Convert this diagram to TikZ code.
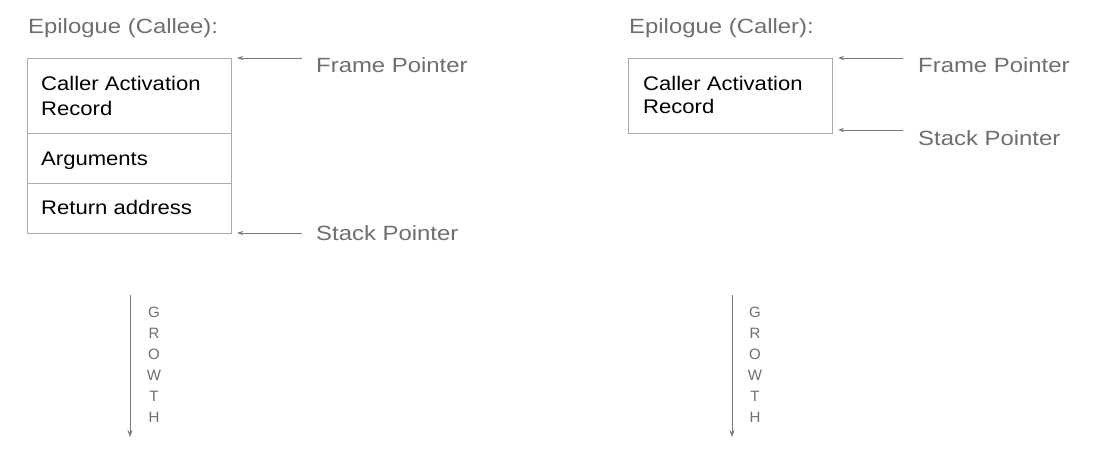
\documentclass[tikz,border=0pt]{standalone}
\usepackage{fontspec}
\setmainfont{Liberation Sans}
\newfontfamily\grayfont[FakeStretch=1.16]{Liberation Sans}
\newfontfamily\boxfont[FakeStretch=1.12]{Liberation Sans}
\usetikzlibrary{arrows.meta}
\definecolor{lblgray}{HTML}{6E6E6E}
\definecolor{boxgray}{HTML}{ABABAB}
\definecolor{arrgray}{HTML}{7A7A7A}
\tikzset{
  lbl/.style={anchor=base west, inner sep=0pt, text=lblgray, font=\grayfont\fontsize{20.6}{23}\selectfont},
  boxtxt/.style={anchor=base west, inner sep=0pt, text=black, font=\boxfont\fontsize{19.7}{22}\selectfont},
  cell/.style={draw=boxgray, line width=1pt},
  ptr/.style={draw=arrgray, line width=0.9pt, -{Stealth[length=6pt,width=4pt]}},
  growarr/.style={draw=arrgray, line width=1pt, -{Stealth[length=7pt,width=5pt]}},
  growtxt/.style={anchor=base, inner sep=0pt, text=lblgray, font=\fontsize{15}{17}\selectfont}
}
\begin{document}
\begin{tikzpicture}[x=1pt,y=-1pt]
\useasboundingbox (0,0) rectangle (1096,466);
% ---- left: callee
\node[lbl] (t1) at (28,33) {Epilogue (Callee):};
\draw[cell] (27,58) rectangle (231,233);
\draw[cell] (27,133) -- (231,133);
\draw[cell] (27,183) -- (231,183);
\node[boxtxt] (c1) at (41,90.5) {Caller Activation};
\node[boxtxt] (c1b) at (41,115) {Record};
\node[boxtxt] (c2) at (41,165.5) {Arguments};
\node[boxtxt] (c3) at (41,214) {Return address};
\coordinate (fp1s) at (302,58);
\coordinate (fp1e) at (237,58);
\coordinate (sp1s) at (302,233);
\coordinate (sp1e) at (237,233);
\draw[ptr] (fp1s) -- (fp1e);
\draw[ptr] (sp1s) -- (sp1e);
\node[lbl] (fp1) at (316,72.5) {Frame Pointer};
\node[lbl] (sp1) at (316,240.5) {Stack Pointer};
\coordinate (g1s) at (130,295);
\coordinate (g1e) at (130,437);
\draw[growarr] (g1s) -- (g1e);
\node[growtxt] (g1a) at (154,317.5) {G};
\node[growtxt] (g1b) at (154,338.5) {R};
\node[growtxt] (g1c) at (154,359.5) {O};
\node[growtxt] (g1d) at (154,380.5) {W};
\node[growtxt] (g1e2) at (154,401.5) {T};
\node[growtxt] (g1f) at (154,422.5) {H};
% ---- right: caller
\node[lbl] (t2) at (629,33) {Epilogue (Caller):};
\draw[cell] (628,58) rectangle (832,133);
\node[boxtxt] (d1) at (643,90) {Caller Activation};
\node[boxtxt] (d1b) at (643,113.5) {Record};
\coordinate (fp2s) at (903,58);
\coordinate (fp2e) at (838,58);
\coordinate (sp2s) at (903,130);
\coordinate (sp2e) at (838,130);
\draw[ptr] (fp2s) -- (fp2e);
\draw[ptr] (sp2s) -- (sp2e);
\node[lbl] (fp2) at (918,72) {Frame Pointer};
\node[lbl] (sp2) at (918,145) {Stack Pointer};
\coordinate (g2s) at (732,295);
\coordinate (g2e) at (732,437);
\draw[growarr] (g2s) -- (g2e);
\node[growtxt] (g2a) at (755,317.5) {G};
\node[growtxt] (g2b) at (755,338.5) {R};
\node[growtxt] (g2c) at (755,359.5) {O};
\node[growtxt] (g2d) at (755,380.5) {W};
\node[growtxt] (g2e2) at (755,401.5) {T};
\node[growtxt] (g2f) at (755,422.5) {H};
\end{tikzpicture}
\end{document}
